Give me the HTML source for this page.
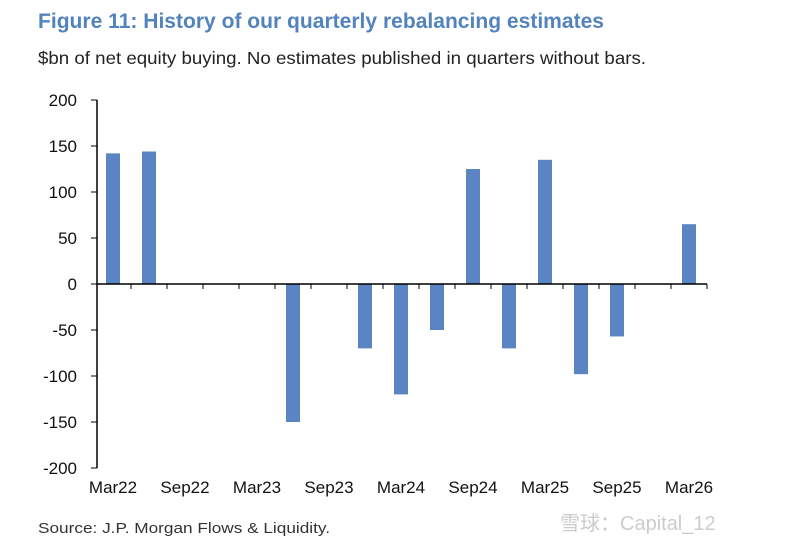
<!DOCTYPE html>
<html><head><meta charset="utf-8"><style>
body{margin:0;background:#fff;width:800px;height:547px;overflow:hidden;font-family:"Liberation Sans",Arial,sans-serif;}
</style></head><body>
<svg width="800" height="547" xmlns="http://www.w3.org/2000/svg">
<text x="38" y="28" font-size="21" font-weight="bold" fill="#5283bd" textLength="566" lengthAdjust="spacingAndGlyphs">Figure 11: History of our quarterly rebalancing estimates</text>
<text x="38" y="64" font-size="17.5" fill="#222" textLength="608" lengthAdjust="spacingAndGlyphs">$bn of net equity buying. No estimates published in quarters without bars.</text>
<g id="plot"></g>
<text x="38" y="533" font-size="15" fill="#333" textLength="292" lengthAdjust="spacingAndGlyphs">Source: J.P. Morgan Flows &amp; Liquidity.</text>
<text x="560" y="530" font-size="20" fill="#ccc">雪球：Capital_12</text>
</svg>
<script>
const categories=["Mar22","Jun22","Sep22","Dec22","Mar23","Jun23","Sep23","Dec23","Mar24","Jun24","Sep24","Dec24","Mar25","Jun25","Sep25","Dec25","Mar26"];
const values=[142,144,null,null,null,-150,null,-70,-120,-50,125,-70,135,-98,-57,null,65];
const yTicks=[200,150,100,50,0,-50,-100,-150,-200];
const xLabels=["Mar22","Sep22","Mar23","Sep23","Mar24","Sep24","Mar25","Sep25","Mar26"];
const NS="http://www.w3.org/2000/svg";
const g=document.getElementById('plot');
const x0=95,band=36,yTop=100,yBot=468;
const y=v=>yTop+(200-v)*(yBot-yTop)/400;
const xc=i=>x0+band*(i+0.5);
function mk(t,a){const e=document.createElementNS(NS,t);for(const k in a)e.setAttribute(k,a[k]);g.appendChild(e);return e;}
let ax=mk('line',{x1:97,x2:97,y1:yTop,y2:yBot,stroke:'#000','stroke-width':1.5});


yTicks.forEach(v=>{
 const tk=mk('line',{x1:91,x2:97,y1:y(v),y2:y(v),stroke:'#000'});
 
 
 const t=mk('text',{x:77,y:y(v)+6,'font-size':17,'text-anchor':'end',fill:'#111'});
 t.textContent=v;
 
 
});
values.forEach((v,i)=>{
 if(v===null)return;
 const r=mk('rect',{x:xc(i)-7,width:14,y:Math.min(y(v),y(0)),height:Math.abs(y(v)-y(0)),fill:'#5b84c2'});
 
 
});
const xa=mk('line',{x1:97,x2:x0+band*categories.length,y1:y(0),y2:y(0),stroke:'#000','stroke-width':1.5});


categories.forEach((c,i)=>{
 const tk=mk('line',{x1:x0+band*(i+1),x2:x0+band*(i+1),y1:y(0),y2:y(0)+5,stroke:'#000'});
 
 
 if(xLabels.includes(c)){
  const t=mk('text',{x:xc(i),y:493,'font-size':17,'text-anchor':'middle',fill:'#111'});
  t.textContent=c;
  
  
 }
});
</script>
</body></html>
